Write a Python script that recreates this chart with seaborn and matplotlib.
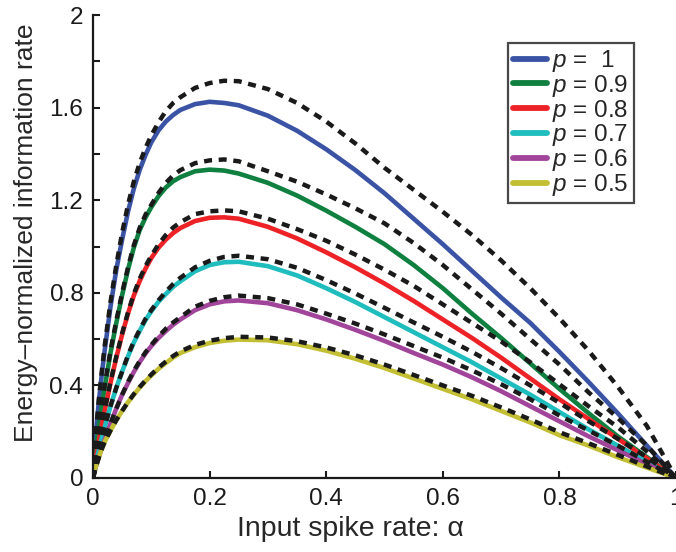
import numpy as np
import pandas as pd
import matplotlib
matplotlib.use("Agg")
import matplotlib.pyplot as plt
import seaborn as sns
from matplotlib.lines import Line2D

# input spike rate grid
alpha = [0, 0.005, 0.01, 0.015, 0.02, 0.03, 0.04, 0.05, 0.06, 0.07, 0.08, 0.09,
         0.1, 0.1125, 0.125, 0.1375, 0.15, 0.175, 0.2, 0.225, 0.25, 0.3, 0.35, 0.4,
         0.45, 0.5, 0.55, 0.6, 0.65, 0.7, 0.75, 0.8, 0.85, 0.9, 0.95, 1.0]

p_labels = ["$p$ =  1", "$p$ = 0.9", "$p$ = 0.8", "$p$ = 0.7", "$p$ = 0.6", "$p$ = 0.5"]

# solid curves (energy-normalized information rate)
rate_p10 = [0, 0.19, 0.33, 0.445, 0.55, 0.74, 0.90, 1.03, 1.15, 1.25, 1.33, 1.395,
            1.45, 1.502, 1.54, 1.568, 1.59, 1.615, 1.625, 1.62, 1.61, 1.565, 1.50, 1.42,
            1.33, 1.23, 1.12, 1.01, 0.895, 0.78, 0.67, 0.545, 0.415, 0.28, 0.14, 0]
rate_p09 = [0, 0.13, 0.225, 0.31, 0.39, 0.54, 0.67, 0.79, 0.90, 0.995, 1.07, 1.125,
            1.17, 1.218, 1.255, 1.282, 1.30, 1.325, 1.332, 1.328, 1.315, 1.275, 1.22, 1.155,
            1.085, 1.01, 0.92, 0.82, 0.71, 0.605, 0.495, 0.385, 0.28, 0.18, 0.09, 0]
rate_p08 = [0, 0.09, 0.16, 0.227, 0.29, 0.41, 0.52, 0.62, 0.71, 0.788, 0.85, 0.904,
            0.95, 0.995, 1.03, 1.058, 1.08, 1.11, 1.124, 1.126, 1.12, 1.085, 1.035, 0.975,
            0.91, 0.84, 0.765, 0.685, 0.605, 0.52, 0.43, 0.34, 0.255, 0.17, 0.085, 0]
rate_p07 = [0, 0.065, 0.12, 0.172, 0.22, 0.31, 0.39, 0.46, 0.525, 0.585, 0.635, 0.682,
            0.72, 0.762, 0.795, 0.826, 0.85, 0.893, 0.92, 0.932, 0.934, 0.915, 0.875, 0.82,
            0.76, 0.695, 0.63, 0.565, 0.50, 0.43, 0.36, 0.285, 0.21, 0.14, 0.07, 0]
rate_p06 = [0, 0.05, 0.09, 0.13, 0.165, 0.235, 0.30, 0.36, 0.41, 0.458, 0.50, 0.538,
            0.57, 0.605, 0.635, 0.662, 0.685, 0.725, 0.75, 0.763, 0.767, 0.755, 0.725, 0.685,
            0.64, 0.592, 0.54, 0.49, 0.435, 0.375, 0.31, 0.245, 0.18, 0.12, 0.06, 0]
rate_p05 = [0, 0.05, 0.09, 0.125, 0.155, 0.205, 0.25, 0.29, 0.327, 0.36, 0.39, 0.418,
            0.443, 0.472, 0.497, 0.52, 0.54, 0.565, 0.583, 0.593, 0.598, 0.595, 0.578, 0.55,
            0.515, 0.475, 0.43, 0.385, 0.34, 0.29, 0.24, 0.185, 0.14, 0.09, 0.045, 0]

# dotted black curves
bound_p10 = [0, 0.20, 0.34, 0.458, 0.57, 0.76, 0.92, 1.06, 1.18, 1.28, 1.36, 1.425,
             1.48, 1.537, 1.585, 1.62, 1.645, 1.685, 1.706, 1.716, 1.714, 1.68, 1.62, 1.54,
             1.445, 1.34, 1.245, 1.15, 1.05, 0.94, 0.82, 0.69, 0.55, 0.395, 0.225, 0]
bound_p09 = [0, 0.13, 0.225, 0.315, 0.40, 0.55, 0.68, 0.80, 0.91, 1.005, 1.08, 1.137,
             1.18, 1.232, 1.275, 1.307, 1.33, 1.36, 1.372, 1.376, 1.368, 1.325, 1.28, 1.225,
             1.165, 1.10, 1.015, 0.92, 0.815, 0.71, 0.60, 0.49, 0.37, 0.26, 0.14, 0]
bound_p08 = [0, 0.09, 0.16, 0.23, 0.295, 0.415, 0.525, 0.625, 0.715, 0.795, 0.86, 0.915,
             0.96, 1.01, 1.05, 1.082, 1.105, 1.14, 1.152, 1.156, 1.152, 1.12, 1.075, 1.025,
             0.965, 0.90, 0.83, 0.75, 0.67, 0.59, 0.50, 0.405, 0.31, 0.22, 0.115, 0]
bound_p07 = [0, 0.065, 0.12, 0.172, 0.22, 0.31, 0.39, 0.46, 0.53, 0.59, 0.64, 0.687,
             0.725, 0.768, 0.805, 0.838, 0.865, 0.91, 0.938, 0.955, 0.96, 0.945, 0.908, 0.855,
             0.797, 0.735, 0.672, 0.61, 0.545, 0.475, 0.40, 0.325, 0.245, 0.17, 0.09, 0]
bound_p06 = [0, 0.05, 0.09, 0.13, 0.165, 0.235, 0.30, 0.36, 0.415, 0.463, 0.505, 0.543,
             0.575, 0.612, 0.645, 0.672, 0.695, 0.74, 0.765, 0.781, 0.788, 0.777, 0.75, 0.71,
             0.667, 0.62, 0.57, 0.52, 0.465, 0.405, 0.34, 0.27, 0.205, 0.14, 0.07, 0]
bound_p05 = [0, 0.05, 0.09, 0.125, 0.155, 0.205, 0.25, 0.29, 0.328, 0.362, 0.393, 0.421,
             0.447, 0.477, 0.503, 0.527, 0.547, 0.575, 0.593, 0.604, 0.61, 0.607, 0.591, 0.564,
             0.53, 0.49, 0.445, 0.40, 0.355, 0.305, 0.253, 0.198, 0.15, 0.10, 0.05, 0]

colors = ["#3a53a4", "#0f8040", "#ec2227", "#1fbdbd", "#a1459b", "#c3bf34"]

rates = [rate_p10, rate_p09, rate_p08, rate_p07, rate_p06, rate_p05]
bounds = [bound_p10, bound_p09, bound_p08, bound_p07, bound_p06, bound_p05]

solid_df = pd.concat([pd.DataFrame({"alpha": alpha, "rate": r, "p": lab})
                      for r, lab in zip(rates, p_labels)], ignore_index=True)
bound_df = pd.concat([pd.DataFrame({"alpha": alpha, "rate": b, "p": lab})
                      for b, lab in zip(bounds, p_labels)], ignore_index=True)

sns.set_theme(style="ticks")
plt.rcParams["font.family"] = ["Liberation Sans", "DejaVu Sans"]
plt.rcParams["mathtext.fontset"] = "custom"
plt.rcParams["mathtext.it"] = "Liberation Sans:italic"
plt.rcParams["mathtext.rm"] = "Liberation Sans"

fig = plt.figure(figsize=(6.76, 5.52), dpi=100)
ax = fig.add_axes([93 / 676, 74 / 552, 583 / 676, 463 / 552])

sns.lineplot(data=solid_df, x="alpha", y="rate", hue="p", hue_order=p_labels,
             palette=colors, linewidth=3.3, estimator=None, sort=False,
             legend=False, ax=ax)
sns.lineplot(data=bound_df, x="alpha", y="rate", units="p", color="#1a1a1a",
             linewidth=3.2, estimator=None, sort=False, legend=False, ax=ax,
             zorder=5)
for line in ax.lines[len(p_labels):]:
    line.set_dashes((1.8, 1.5))
    line.set_dash_capstyle("butt")

ax.set_xlim(0, 1)
ax.set_ylim(0, 2)
ax.set_xticks([0, 0.2, 0.4, 0.6, 0.8, 1])
ax.set_xticklabels(["0", "0.2", "0.4", "0.6", "0.8", "1"])
ax.set_yticks(np.round(np.arange(0, 2.01, 0.2), 1))
ax.set_yticklabels(["0", "", "0.4", "", "0.8", "", "1.2", "", "1.6", "", "2"])
ax.tick_params(direction="in", length=5, width=1.5, labelsize=17.5, colors="#1a1a1a")
ax.tick_params(axis="y", pad=7)
ax.tick_params(axis="x", pad=7)
for s in ["top", "right"]:
    ax.spines[s].set_visible(False)
for s in ["left", "bottom"]:
    ax.spines[s].set_linewidth(1.6)
    ax.spines[s].set_color("#1a1a1a")

ax.set_xlabel("Input spike rate: α", fontsize=20.5)
ax.set_ylabel("Energy–normalized information rate", fontsize=19)
ax.xaxis.set_label_coords(0.4417, -0.082)
ax.yaxis.set_label_coords(-0.0935, 0.53)

handles = [Line2D([0], [0], color=c, lw=4.2) for c in colors]
leg = ax.legend(handles, p_labels, loc="upper right", bbox_to_anchor=(0.928, 0.94),
                fontsize=17.5, handlelength=1.4, handletextpad=0.2, labelspacing=-0.05,
                borderpad=0.22, borderaxespad=0, frameon=True, fancybox=False)
leg.get_frame().set_edgecolor("#1a1a1a")
leg.get_frame().set_linewidth(1.6)

fig.savefig("out.png", dpi=100)
